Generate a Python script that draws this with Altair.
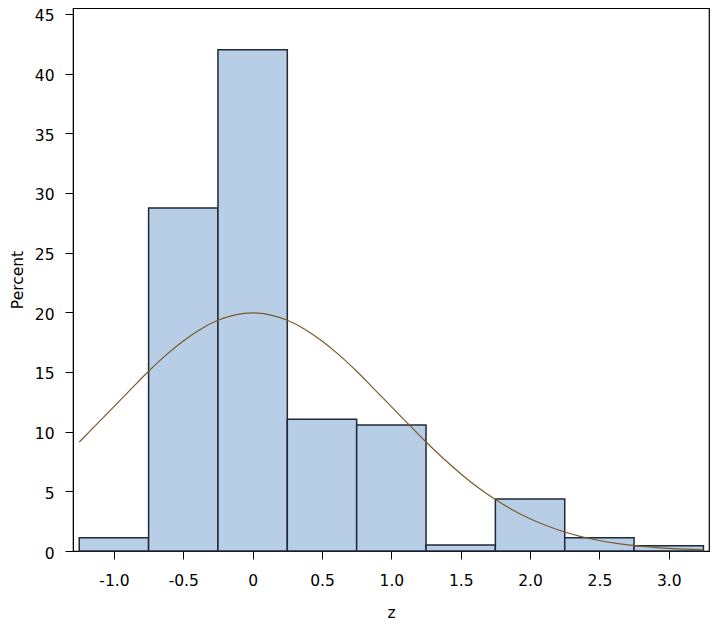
import altair as alt
import pandas as pd

# Histogram bins (width 0.5) and percent per bin
bin_left = [-1.25, -0.75, -0.25, 0.25, 0.75, 1.25, 1.75, 2.25, 2.75]
bin_right = [-0.75, -0.25, 0.25, 0.75, 1.25, 1.75, 2.25, 2.75, 3.25]
percent = [1.12, 28.75, 42.0, 11.04, 10.56, 0.5, 4.36, 1.12, 0.45]

# Fitted curve
curve_z = [-1.25, -1.125, -1.0, -0.875, -0.75, -0.625, -0.5, -0.375, -0.25, -0.125,
           0.0, 0.125, 0.25, 0.375, 0.5, 0.625, 0.75, 0.875, 1.0, 1.125, 1.25,
           1.375, 1.5, 1.625, 1.75, 1.875, 2.0, 2.125, 2.25, 2.375, 2.5, 2.625,
           2.75, 2.875, 3.0, 3.125, 3.25]
curve_pct = [9.13, 10.61, 12.10, 13.59, 15.06, 16.41, 17.60, 18.59, 19.33, 19.79,
             19.95, 19.79, 19.33, 18.59, 17.60, 16.41, 15.06, 13.59, 12.10, 10.61, 9.13,
             7.75, 6.48, 5.32, 4.31, 3.44, 2.70, 2.09, 1.59, 1.19, 0.88, 0.64,
             0.45, 0.32, 0.22, 0.15, 0.10]

x_ticks = [-1.0, -0.5, 0.0, 0.5, 1.0, 1.5, 2.0, 2.5, 3.0]
y_ticks = [0, 5, 10, 15, 20, 25, 30, 35, 40, 45]

bars_df = pd.DataFrame({"left": bin_left, "right": bin_right, "pct": percent})
curve_df = pd.DataFrame({"z": curve_z, "pct": curve_pct})

FONT = "DejaVu Sans"

xscale = alt.Scale(domain=[-1.295, 3.29], nice=False, zero=False)
yscale = alt.Scale(domain=[0, 45.5], nice=False)

xaxis = alt.Axis(values=x_ticks, title="z", grid=False,
                 labelExpr="datum.value == 0 ? '0' : (datum.value < 0 ? '-' + format(-datum.value, '.1f') : format(datum.value, '.1f'))",
                 tickSize=8, labelPadding=14, titlePadding=17)
yaxis = alt.Axis(values=y_ticks, title="Percent", grid=False,
                 tickSize=8, labelPadding=11, titlePadding=9, labelOffset=2)

bars = alt.Chart(bars_df).mark_rect(
    color="#b8cee6", stroke="#1f2837", strokeWidth=1.5
).encode(
    x=alt.X("left:Q", scale=xscale, axis=xaxis),
    x2="right:Q",
    y=alt.Y("pct:Q", scale=yscale, axis=yaxis),
    y2=alt.datum(0),
)

curve = alt.Chart(curve_df).mark_line(
    color="#7a5a2c", strokeWidth=1.2, interpolate="monotone"
).encode(
    x=alt.X("z:Q", scale=xscale),
    y=alt.Y("pct:Q", scale=yscale),
)

chart = alt.layer(bars, curve).properties(
    width=636, height=543,
    autosize=alt.AutoSizeParams(type="none"),
    padding={"left": 65, "top": 0, "right": 1, "bottom": 76},
).configure_view(
    stroke="#000000", strokeWidth=1.2
).configure_axis(
    domainColor="#000000", tickColor="#000000",
    labelColor="#000000", titleColor="#000000",
    labelFont=FONT, titleFont=FONT,
    labelFontSize=15.5, titleFontSize=15.5, titleFontWeight="normal",
)

chart.save("out.html", embed_options={"renderer": "svg", "actions": False})
